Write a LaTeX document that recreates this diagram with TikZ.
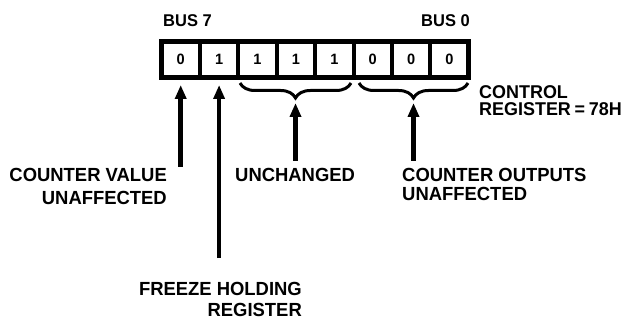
\documentclass[tikz,border=0pt]{standalone}
\usepackage{fontspec}
\setmainfont{Liberation Sans}[FakeStretch=0.97]
\usetikzlibrary{arrows.meta,decorations.pathreplacing}
\begin{document}
\begin{tikzpicture}[x=1pt,y=-1pt,
  cell/.style={draw,line width=4pt,minimum width=38.4pt,minimum height=35.5pt,inner sep=0pt,outer sep=0pt,font=\bfseries\fontsize{15}{15}\selectfont},
  lbl/.style={font=\bfseries\fontsize{19}{19}\selectfont,inner sep=0pt},
  bus/.style={font=\bfseries\fontsize{17}{17}\selectfont,inner sep=0pt},
  up/.style={line width=4.5pt,-{Triangle[width=11pt,length=14pt]}},
  brc/.style={line width=3pt,decorate,decoration={brace,mirror,amplitude=15pt,aspect=0.5}}]
\useasboundingbox (0,0) rectangle (628,320);
% cells
\foreach \b [count=\i from 0] in {0,1,1,1,1,0,0,0} {
  \node[cell] (c\i) at ({161.5+38.4*(\i+0.5)},59.75) {\b};
}
\draw[line width=5pt] (c0.north west) rectangle (c7.south east);
% labels
\node[bus,anchor=north west] (bus7) at (163,14.5) {BUS 7};
\node[bus,anchor=north east] (bus0) at (470,14) {BUS 0};
\node[lbl,anchor=north west,align=left,font=\bfseries\fontsize{18.5}{17}\selectfont] (ctrl) at (479,85) {CONTROL\\REGISTER\hspace{0.2em}=\hspace{0.2em}78H};
\node[lbl,anchor=north east,align=right] (cv) at (167,168) {COUNTER VALUE\\[4pt]UNAFFECTED};
\node[lbl,anchor=north west,align=left] (unch) at (235,168) {UNCHANGED};
\node[lbl,anchor=north west,align=left] (co) at (402,168) {COUNTER OUTPUTS\\[0pt]UNAFFECTED};
\node[lbl,anchor=north east,align=right] (frz) at (302,282) {FREEZE HOLDING\\[2pt]REGISTER};
% braces
\draw[brc] (240,83) -- (351,83);
\draw[brc] (359,83) -- (468,83);
\coordinate (b1t) at (295.5,103);
\coordinate (b2t) at (413.5,103);
% arrow tails
\coordinate (t0) at (c0.south |- 0,167);
\coordinate (t1) at (c1.south |- 0,258);
\coordinate (t2) at (295.5,161);
\coordinate (t3) at (413.5,161);
\coordinate (h0) at (c0.south |- 0,85);
\coordinate (h1) at (c1.south |- 0,85);
\draw[up] (t0) -- (h0);
\draw[up] (t1) -- (h1);
\draw[up] (t2) -- (b1t);
\draw[up] (t3) -- (b2t);
\end{tikzpicture}
\end{document}
